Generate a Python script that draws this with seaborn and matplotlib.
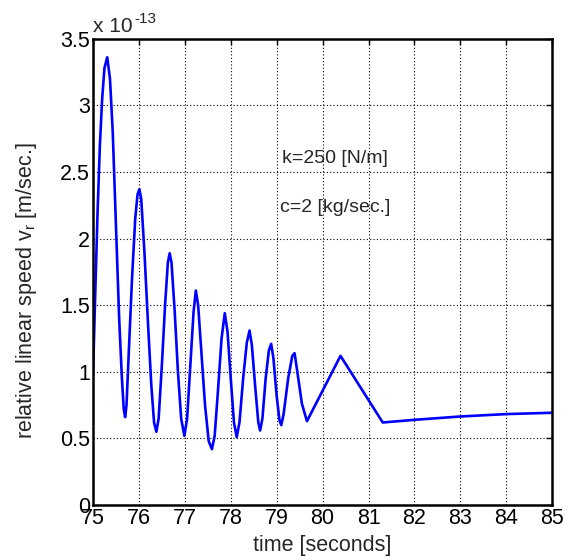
import matplotlib
matplotlib.use("Agg")
import matplotlib.pyplot as plt
import seaborn as sns
import pandas as pd

# time [s] and relative speed in units of 1e-13 m/s
time_s = [75.00, 75.05, 75.10, 75.15, 75.20, 75.25, 75.31, 75.37, 75.43, 75.50,
          75.57, 75.63, 75.67, 75.70, 75.73, 75.78, 75.85, 75.92, 75.97, 76.01,
          76.05, 76.12, 76.20, 76.27, 76.33, 76.38, 76.43, 76.50, 76.57, 76.63,
          76.67, 76.71, 76.78, 76.85, 76.92, 76.99, 77.05, 77.12, 77.19, 77.24,
          77.29, 77.36, 77.44, 77.52, 77.59, 77.65, 77.72, 77.80, 77.87, 77.93,
          78.00, 78.07, 78.13, 78.19, 78.27, 78.35, 78.41, 78.46, 78.53, 78.60,
          78.64, 78.69, 78.76, 78.83, 78.88, 78.93, 79.00, 79.06, 79.10, 79.15,
          79.25, 79.34, 79.39, 79.45, 79.55, 79.66, 80.39, 81.31, 82.00, 83.00,
          84.00, 85.00]
speed_e13 = [0.97, 1.60, 2.20, 2.70, 3.05, 3.28, 3.36, 3.20, 2.80, 2.10,
             1.40, 0.95, 0.72, 0.66, 0.75, 1.15, 1.70, 2.15, 2.33, 2.37,
             2.30, 1.90, 1.35, 0.90, 0.62, 0.55, 0.65, 1.05, 1.50, 1.82,
             1.89, 1.82, 1.45, 1.00, 0.65, 0.52, 0.65, 1.05, 1.45, 1.61,
             1.50, 1.15, 0.75, 0.48, 0.42, 0.52, 0.85, 1.25, 1.44, 1.30,
             0.95, 0.62, 0.51, 0.62, 0.95, 1.22, 1.31, 1.20, 0.90, 0.62,
             0.56, 0.65, 0.95, 1.16, 1.21, 1.10, 0.82, 0.64, 0.60, 0.68,
             0.95, 1.12, 1.14, 1.00, 0.76, 0.63, 1.12, 0.62, 0.64, 0.665,
             0.683, 0.693]

x_ticks = [75, 76, 77, 78, 79, 80, 81, 82, 83, 84, 85]
y_ticks = [0, 0.5, 1, 1.5, 2, 2.5, 3, 3.5]
y_tick_labels = ["0", "0.5", "1", "1.5", "2", "2.5", "3", "3.5"]

sns.set_style("white")
plt.rcParams["font.family"] = ["Liberation Sans", "DejaVu Sans"]
plt.rcParams["mathtext.default"] = "regular"

df = pd.DataFrame({"t": time_s, "v": speed_e13})

fig = plt.figure(figsize=(5.74, 5.60), dpi=100)
ax = fig.add_axes([0.162, 0.098, 0.800, 0.833])

sns.lineplot(data=df, x="t", y="v", ax=ax, sort=False, estimator=None,
             color=(0, 0, 1), linewidth=1.9)

ax.set_xlim(75, 85)
ax.set_ylim(0, 3.5)
ax.set_xticks(x_ticks)
ax.set_xticklabels([str(v) for v in x_ticks])
ax.set_yticks(y_ticks)
ax.set_yticklabels(y_tick_labels)

ax.grid(True, color="black", linestyle=(0, (1, 2.0)), linewidth=0.8)
for s in ax.spines.values():
    s.set_color("black")
    s.set_linewidth(1.8)
    s.set_visible(True)

ax.tick_params(axis="both", direction="in", length=4, width=1, labelsize=15.5,
               top=True, right=True, pad=2, colors="black")

ax.set_xlabel("time [seconds]", fontsize=15.5, labelpad=0)
ax.xaxis.set_label_coords(0.5, -0.065)
ax.set_ylabel("relative linear speed v$_r$ [m/sec.]", fontsize=15.5)
ax.yaxis.set_label_coords(-0.118, 0.46)

ax.text(80.26, 2.60, "k=250 [N/m]", fontsize=14, ha="center", va="center")
ax.text(80.28, 2.23, "c=2 [kg/sec.]", fontsize=14, ha="center", va="center")

base = ax.text(0.0, 1.005, "x 10", transform=ax.transAxes, fontsize=15,
               ha="left", va="bottom")
ax.annotate("-13", xy=(1, 0.55), xycoords=base, xytext=(1, 0),
            textcoords="offset points", fontsize=11, ha="left", va="bottom")

fig.savefig("out.png", dpi=100)
